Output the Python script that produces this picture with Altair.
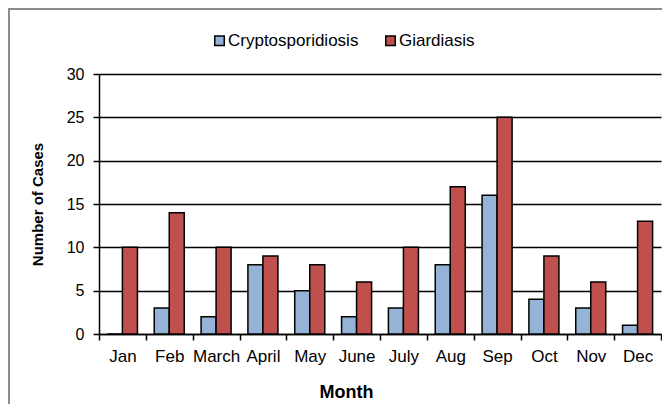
import altair as alt
import pandas as pd

months = ["Jan", "Feb", "March", "April", "May", "June", "July", "Aug", "Sep", "Oct", "Nov", "Dec"]
crypto = [0, 3, 2, 8, 5, 2, 3, 8, 16, 4, 3, 1]
giardia = [10, 14, 10, 9, 8, 6, 10, 17, 25, 9, 6, 13]
series = ["Cryptosporidiosis", "Giardiasis"]
colors = ["#95B3D7", "#C0504D"]

rows = []
for m, c, g in zip(months, crypto, giardia):
    rows.append({"Month": m, "Disease": series[0], "Cases": c})
    rows.append({"Month": m, "Disease": series[1], "Cases": g})
df = pd.DataFrame(rows)

FONT = "Liberation Sans"

bars = alt.Chart(df).mark_bar(stroke="black", strokeWidth=1.5).encode(
    x=alt.X("Month:N", sort=months,
            scale=alt.Scale(paddingInner=0, paddingOuter=0),
            axis=alt.Axis(title="Month", labelAngle=0, tickBand="extent",
                          domainColor="black", domainWidth=1.5,
                          tickColor="black", tickWidth=1.5, tickSize=6,
                          labelPadding=8, labelFontSize=17, labelColor="black",
                          titleFontSize=18, titleFontWeight="bold", titlePadding=19,
                          titleX=247,
                          titleColor="black", labelFont=FONT, titleFont=FONT)),
    xOffset=alt.XOffset("Disease:N", sort=series,
                        scale=alt.Scale(paddingInner=0, paddingOuter=0.56)),
    y=alt.Y("Cases:Q", scale=alt.Scale(domain=[0, 30]),
            axis=alt.Axis(title="Number of Cases", values=[0, 5, 10, 15, 20, 25, 30],
                          grid=True, gridColor="black", gridWidth=1.5,
                          domainColor="black", domainWidth=1.5,
                          tickColor="black", tickWidth=1.5, tickSize=6,
                          labelPadding=9, labelFontSize=16, labelColor="black",
                          titleFontSize=15, titleFontWeight="bold", titlePadding=21,
                          titleColor="black", labelFont=FONT, titleFont=FONT)),
    color=alt.Color("Disease:N", sort=series,
                    scale=alt.Scale(domain=series, range=colors),
                    legend=alt.Legend(title=None, orient="none", direction="horizontal",
                                      legendX=112, legendY=-42,
                                      symbolType="square", symbolSize=90,
                                      symbolStrokeColor="black", symbolStrokeWidth=1.5,
                                      labelFontSize=17, labelFont=FONT, labelColor="black",
                                      columnPadding=23, labelOffset=0)),
)

frame = alt.Chart(df).mark_rect(fill=None, stroke="#8c8c8c", strokeWidth=2).encode(
    x=alt.value(-90), x2=alt.value(700), y=alt.value(-65), y2=alt.value(500)
)

chart = alt.layer(frame, bars).properties(
    width=562, height=260,
    padding={"left": 91, "top": 66, "right": 1, "bottom": 70},
    autosize=alt.AutoSizeParams(type="none"),
).configure_view(stroke=None).configure_axis(grid=False).configure_axisY(grid=True)

chart.save("out.html", embed_options={"renderer": "svg", "actions": False})
